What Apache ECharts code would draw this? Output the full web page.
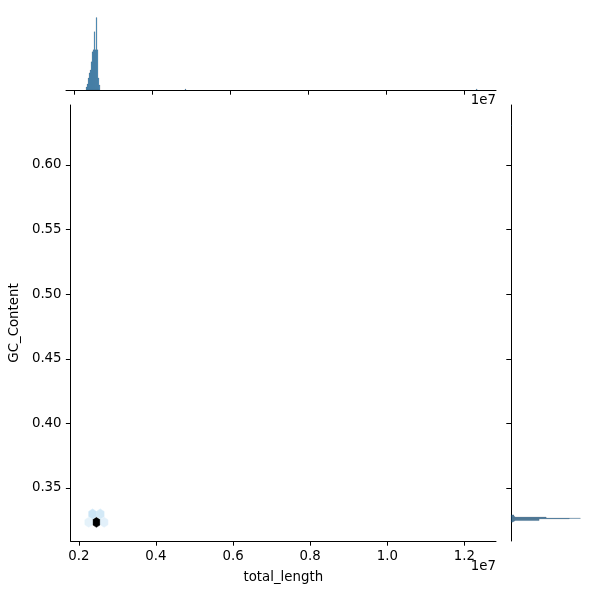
<!DOCTYPE html>
<html><head><meta charset="utf-8">
<script src="https://cdn.jsdelivr.net/npm/echarts@6/dist/echarts.min.js"></script>
<style>html,body{margin:0;padding:0;background:#fff}#c{width:600px;height:600px}</style>
</head><body><div id="c"></div>
<script>
// ---- data ----
// hexbin cells (centre x, centre y, count)
const hexX = [2457000, 2257000, 2657000, 2357000, 2557000, 4857000, 12320000];
const hexY = [0.3235, 0.3235, 0.3235, 0.3299, 0.3299, 0.3235, 0.6310];
const hexCount = [289, 18, 20, 35, 30, 1, 1];
// top marginal histogram (bin left edge, count)
const topBinLeft = [2300000, 2325700, 2351400, 2377100, 2402800, 2428500, 2454200, 2479900, 2505600, 2531300, 2557000, 2582700, 2608400, 2634100, 4840000, 12310000];
const topBinCount = [3, 6, 12, 17, 20, 28, 38, 40, 58, 40, 72, 40, 12, 5, 1, 1];
const topBinWidth = 25700;
// right marginal histogram (bin lower edge, count)
const rightBinLow = [0.3288, 0.3284, 0.3280, 0.3276, 0.3272, 0.3268, 0.3264, 0.3260, 0.3256, 0.3252, 0.3248, 0.3244, 0.3240, 0.3236, 0.6306];
const rightBinCount = [3, 3, 3, 4, 35, 35, 69, 58, 28, 28, 28, 4, 3, 2, 1];
const rightBinHeight = 0.0004;
// ticks
const xTicks = [2000000, 4000000, 6000000, 8000000, 10000000, 12000000];
const yTicks = [0.35, 0.40, 0.45, 0.50, 0.55, 0.60];
const xName = 'total_length', yName = 'GC_Content';

// ---- colormap (seaborn light->dark blend of C0 through black) ----
function rgb2hls(r,g,b){const mx=Math.max(r,g,b),mn=Math.min(r,g,b);const l=(mx+mn)/2;if(mx===mn)return[0,l,0];const d=mx-mn;const s=l<=0.5?d/(mx+mn):d/(2-mx-mn);let h;if(mx===r)h=(g-b)/d;else if(mx===g)h=2+(b-r)/d;else h=4+(r-g)/d;h=((h/6)%1+1)%1;return[h,l,s];}
function vv(m1,m2,h){h=((h%1)+1)%1;if(h<1/6)return m1+(m2-m1)*h*6;if(h<0.5)return m2;if(h<2/3)return m1+(m2-m1)*(2/3-h)*6;return m1;}
function hls2rgb(h,l,s){if(s===0)return[l,l,l];const m2=l<=0.5?l*(1+s):l+s-l*s;const m1=2*l-m2;return[vv(m1,m2,h+1/3),vv(m1,m2,h),vv(m1,m2,h-1/3)];}
const base = rgb2hls(31/255,119/255,180/255);
const cmap = [];
for (let i=0;i<12;i++){const l=1-i/11;const c=hls2rgb(base[0],l,base[2]).map(v=>Math.round(Math.max(0,Math.min(1,v))*255));cmap.push('rgb('+c.join(',')+')');}

const hexW = 200000, hexH = 0.0118;
const FONT = 'DejaVu Sans';
const BAR_FILL = 'rgba(31,119,180,0.75)', BAR_EDGE = 'rgba(0,0,0,0.45)';
const hexData = hexX.map((x,i)=>[x, hexY[i], hexCount[i]]);
const topData = topBinLeft.map((x,i)=>[x, topBinCount[i]]);
const rightData = rightBinLow.map((y,i)=>[rightBinCount[i], y]);

const chart = echarts.init(document.getElementById('c'));
const axisLineStyle = {color:'#000', width:1};
const tickStyle = {color:'#000', width:1};
chart.setOption({
  animation:false,
  grid:[
    {left:66, top:105, width:430, height:436},
    {left:66, top:14, width:430, height:76},
    {left:511, top:105, width:76, height:436}
  ],
  visualMap:{type:'continuous', show:false, min:1, max:Math.max(...hexCount), dimension:2, seriesIndex:0, inRange:{color:cmap}},
  xAxis:[
    {gridIndex:0, type:'value', min:1787000, max:12820000,
     axisLine:{show:true, onZero:false, lineStyle:axisLineStyle},
     axisTick:{show:true, length:4.7, lineStyle:tickStyle, customValues:xTicks},
     axisLabel:{show:true, margin:9, color:'#000', fontSize:13.33, fontFamily:FONT, customValues:xTicks, formatter:v=>(v/1e7).toFixed(1)},
     splitLine:{show:false},
     name:xName, nameLocation:'middle', nameGap:30, nameTextStyle:{color:'#000', fontSize:13.33, fontFamily:FONT}},
    {gridIndex:1, type:'value', min:1787000, max:12820000,
     axisLine:{show:true, onZero:false, lineStyle:axisLineStyle},
     axisTick:{show:true, length:4.7, lineStyle:tickStyle, customValues:xTicks},
     axisLabel:{show:false}, splitLine:{show:false}},
    {gridIndex:2, type:'value', min:0, max:75.6, show:false, splitLine:{show:false}}
  ],
  yAxis:[
    {gridIndex:0, type:'value', min:0.309, max:0.6464,
     axisLine:{show:true, onZero:false, lineStyle:axisLineStyle},
     axisTick:{show:true, length:4.7, lineStyle:tickStyle, customValues:yTicks},
     axisLabel:{show:true, margin:9, color:'#000', fontSize:13.33, fontFamily:FONT, customValues:yTicks, formatter:v=>v.toFixed(2)},
     splitLine:{show:false},
     name:yName, nameLocation:'middle', nameGap:47, nameRotate:90, nameTextStyle:{color:'#000', fontSize:13.33, fontFamily:FONT}},
    {gridIndex:1, type:'value', min:0, max:75.6, show:false, splitLine:{show:false}},
    {gridIndex:2, type:'value', min:0.309, max:0.6464,
     axisLine:{show:true, onZero:false, lineStyle:axisLineStyle},
     axisTick:{show:true, length:4.7, lineStyle:tickStyle, customValues:yTicks},
     axisLabel:{show:false}, splitLine:{show:false}}
  ],
  series:[
    {type:'custom', xAxisIndex:0, yAxisIndex:0, data:hexData, clip:true,
     renderItem:function(params, api){
       const c = api.coord([api.value(0), api.value(1)]);
       const s = api.size([hexW, hexH]);
       const w = s[0]/2, h = s[1]/3;
       const col = api.visual('color');
       return {type:'polygon', shape:{points:[[c[0]+w,c[1]-h/2],[c[0]+w,c[1]+h/2],[c[0],c[1]+h],[c[0]-w,c[1]+h/2],[c[0]-w,c[1]-h/2],[c[0],c[1]-h]]},
               style:{fill:col, stroke:col, lineWidth:0.5}};
     }},
    {type:'custom', xAxisIndex:1, yAxisIndex:1, data:topData,
     renderItem:function(params, api){
       const p0 = api.coord([api.value(0), api.value(1)]);
       const p1 = api.coord([api.value(0)+topBinWidth, 0]);
       return {type:'rect', shape:{x:p0[0], y:p0[1], width:p1[0]-p0[0], height:p1[1]-p0[1]},
               style:{fill:BAR_FILL, stroke:BAR_EDGE, lineWidth:0.25}};
     }},
    {type:'custom', xAxisIndex:2, yAxisIndex:2, data:rightData,
     renderItem:function(params, api){
       const p0 = api.coord([0, api.value(1)+rightBinHeight]);
       const p1 = api.coord([api.value(0), api.value(1)]);
       return {type:'rect', shape:{x:p0[0], y:p0[1], width:p1[0]-p0[0], height:p1[1]-p0[1]},
               style:{fill:BAR_FILL, stroke:BAR_EDGE, lineWidth:0.25}};
     }}
  ],
  graphic:[
    {type:'text', x:496, y:101, style:{text:'1e7', align:'right', verticalAlign:'middle', fill:'#000', font:'13.33px "DejaVu Sans"'}},
    {type:'text', x:496, y:567, style:{text:'1e7', align:'right', verticalAlign:'middle', fill:'#000', font:'13.33px "DejaVu Sans"'}}
  ]
});
</script></body></html>
